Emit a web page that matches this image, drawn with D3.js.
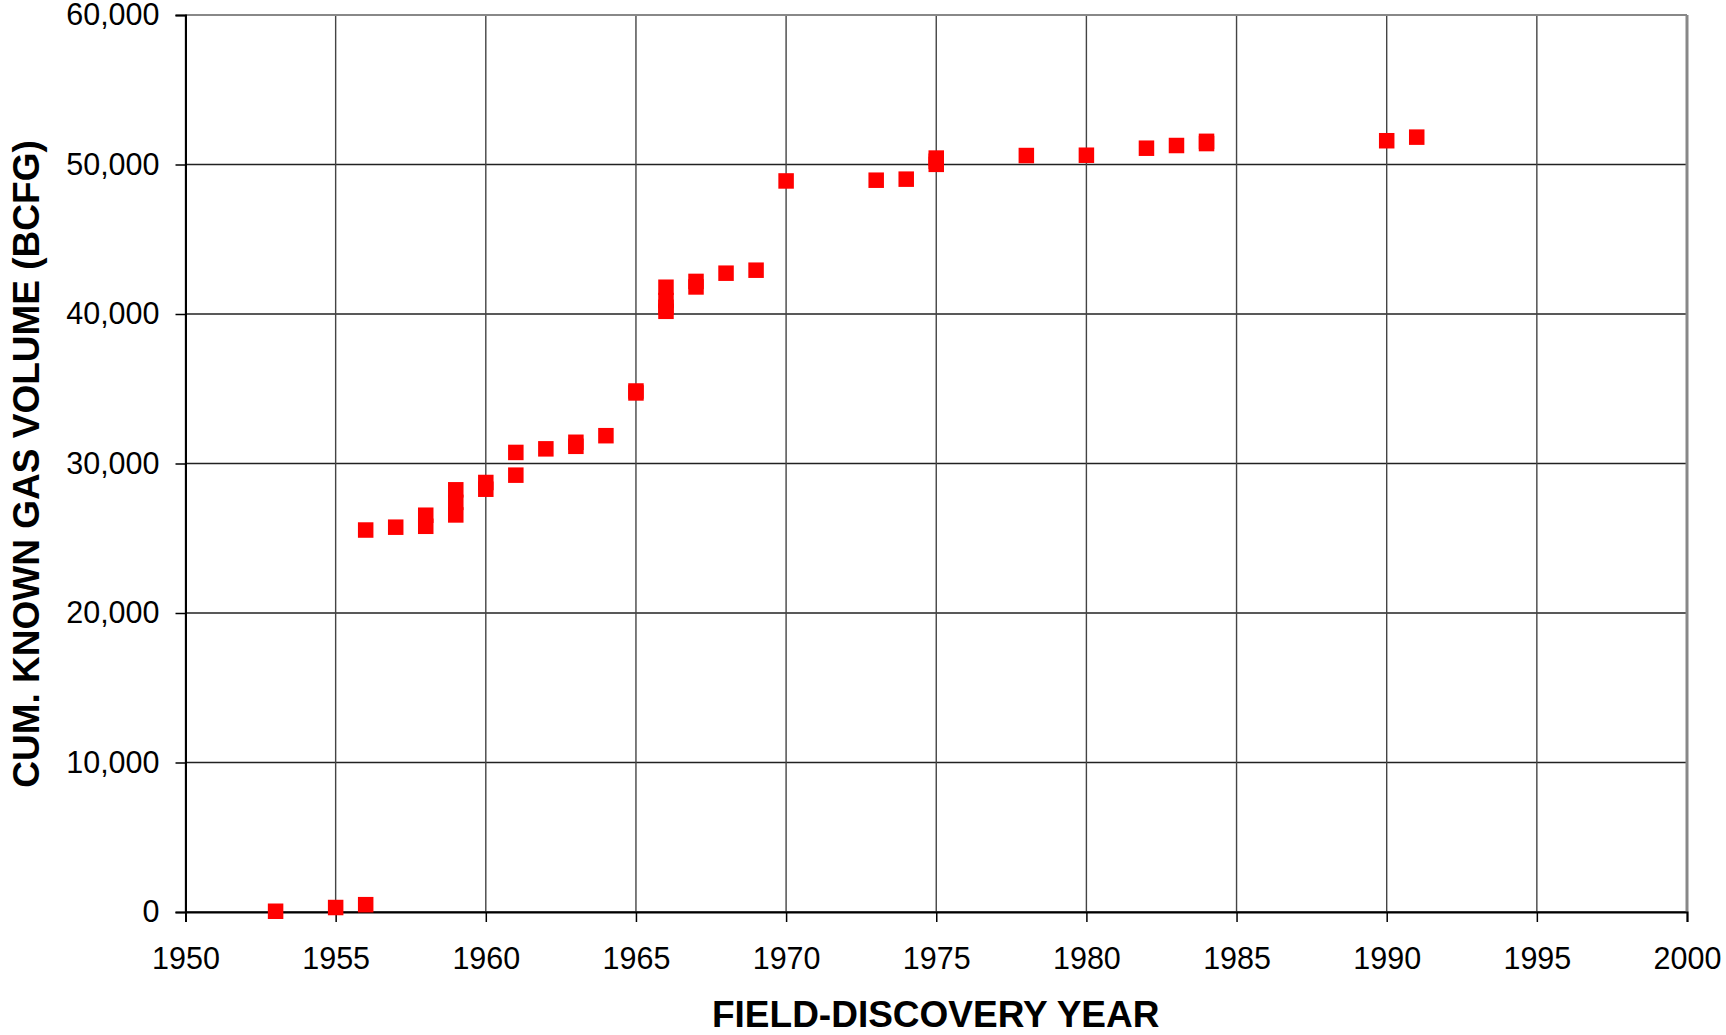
<!DOCTYPE html>
<html>
<head>
<meta charset="utf-8">
<script src="https://cdn.jsdelivr.net/npm/d3@7"></script>
<style>
  body { margin: 0; background: #fff; }
  #svg { width: 1726px; height: 1035px; display: block; font-family: Arial, 'Liberation Sans', sans-serif; }
</style>
</head>
<body>
<svg id="svg"></svg>
<script>
// data (cumulative known gas volume, BCFG)
var discoveryYear = [1953, 1955, 1956, 1956, 1957, 1958, 1958, 1959, 1959, 1959,
                     1960, 1960, 1961, 1961, 1962, 1963, 1963, 1964, 1965, 1965,
                     1966, 1966, 1966, 1966, 1967, 1967, 1968, 1969, 1970, 1973,
                     1974, 1975, 1975, 1975, 1978, 1980, 1982, 1983, 1984, 1984,
                     1990, 1991];
var cumVolume = [50, 300, 490, 25550, 25740, 25800, 26540, 26560, 27400, 28240,
                 28280, 28730, 29220, 30740, 30980, 31150, 31420, 31860, 34720, 34850,
                 40180, 40450, 40900, 41790, 41810, 42180, 42730, 42930, 48900, 48950,
                 49020, 50010, 50220, 50430, 50600, 50620, 51090, 51270, 51400, 51550,
                 51590, 51830];
var xTicks = [1950, 1955, 1960, 1965, 1970, 1975, 1980, 1985, 1990, 1995, 2000];
var yTicks = [0, 10000, 20000, 30000, 40000, 50000, 60000];

var svg
var width
var height
var margin
var innerWidth
var innerHeight

document.addEventListener('DOMContentLoaded', function () {
    svg = d3.select('#svg');
    width = 1726;
    height = 1035;
    margin = { top: 15, bottom: 123, right: 39, left: 185.5 };
    innerWidth = width - margin.left - margin.right;
    innerHeight = height - margin.top - margin.bottom;
    drawScatter();
});

function drawScatter() {
    const xScale = d3.scaleLinear()
        .domain([1950, 2000])
        .range([0, innerWidth]);
    const yScale = d3.scaleLinear()
        .domain([0, 60000])
        .range([innerHeight, 0]);

    const g = svg.append('g')
        .attr('transform', 'translate(' + margin.left + ',' + margin.top + ')');

    // grid
    g.selectAll('.hgrid')
        .data(yTicks)
        .join('line')
        .attr('x1', 0).attr('x2', innerWidth)
        .attr('y1', d => yScale(d)).attr('y2', d => yScale(d))
        .style('stroke', '#222')
        .style('stroke-width', 1.4);
    g.selectAll('.vgrid')
        .data(xTicks)
        .join('line')
        .attr('x1', d => xScale(d)).attr('x2', d => xScale(d))
        .attr('y1', 0).attr('y2', innerHeight)
        .style('stroke', '#444')
        .style('stroke-width', 1.4);

    // plot border (gray top / right)
    g.append('line')
        .attr('x1', 0).attr('x2', innerWidth).attr('y1', 0).attr('y2', 0)
        .style('stroke', '#888').style('stroke-width', 2);
    g.append('line')
        .attr('x1', innerWidth).attr('x2', innerWidth).attr('y1', 0).attr('y2', innerHeight)
        .style('stroke', '#888').style('stroke-width', 3);

    // axes
    const yAxis = d3.axisLeft(yScale)
        .tickValues(yTicks)
        .tickFormat(d3.format(','))
        .tickSize(10)
        .tickPadding(16);
    const yG = g.append('g').call(yAxis);

    const xAxis = d3.axisBottom(xScale)
        .tickValues(xTicks)
        .tickFormat(d3.format('d'))
        .tickSize(10)
        .tickPadding(25);
    const xG = g.append('g')
        .attr('transform', `translate(0,${innerHeight})`)
        .call(xAxis);

    [yG, xG].forEach(a => {
        a.select('.domain').style('stroke', '#000').style('stroke-width', 2);
        a.selectAll('.tick line').style('stroke', '#000').style('stroke-width', 1.5);
        a.selectAll('.tick text')
            .style('font-size', '30.5px')
            .style('font-family', "Arial, 'Liberation Sans', sans-serif")
            .style('fill', '#000');
    });

    // markers
    const pts = discoveryYear.map((yr, i) => ({ year: yr, vol: cumVolume[i] }));
    const sz = 15.5;
    g.selectAll('.pt')
        .data(pts)
        .join('rect')
        .attr('x', d => xScale(d.year) - sz / 2)
        .attr('y', d => yScale(d.vol) - sz / 2)
        .attr('width', sz)
        .attr('height', sz)
        .attr('fill', '#ff0000');

    // axis titles
    svg.append('text')
        .attr('x', margin.left + xScale(1975) - 0.5)
        .attr('y', 1027)
        .attr('text-anchor', 'middle')
        .style('font-weight', 'bold')
        .style('font-size', '37px')
        .text('FIELD-DISCOVERY YEAR');

    svg.append('text')
        .attr('transform', 'translate(39,' + (margin.top + innerHeight / 2 + 0.5) + ') rotate(-90)')
        .attr('text-anchor', 'middle')
        .style('font-weight', 'bold')
        .style('font-size', '37px')
        .text('CUM. KNOWN GAS VOLUME (BCFG)');
}
</script>
</body>
</html>
